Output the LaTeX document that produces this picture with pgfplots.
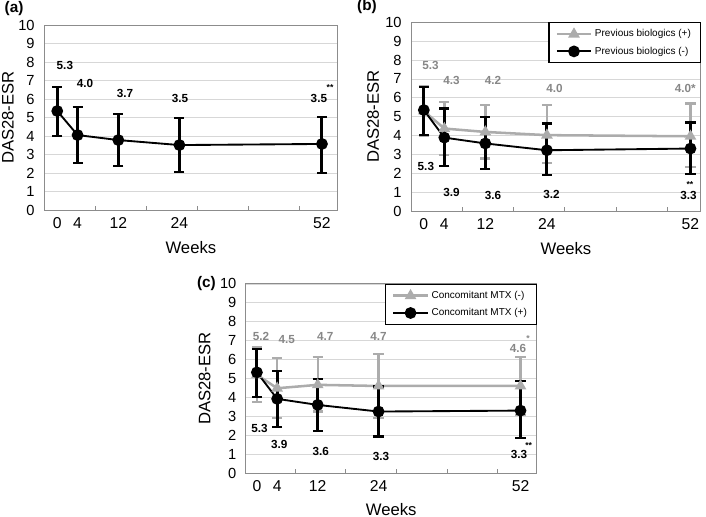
\documentclass[border=0pt]{standalone}
\usepackage{pgfplots}
\pgfplotsset{compat=1.18}
\usepackage{pgfplotstable}
\usepackage{fontspec}
\setmainfont{Liberation Sans}
\definecolor{lgray}{RGB}{172,172,172}
\definecolor{tgray}{RGB}{135,135,135}
\definecolor{gridc}{RGB}{215,215,215}
\definecolor{framec}{RGB}{140,140,140}

\pgfplotstableread{
x y ep em
0  5.35 1.28 1.33
4  4.05 1.54 1.49
12 3.78 1.41 1.40
24 3.51 1.48 1.46
52 3.57 1.48 1.55
}\dataA
\pgfplotstableread{
x y ep em
0  5.30 1.30 1.30
4  4.37 1.42 1.41
12 4.19 1.42 1.41
24 4.02 1.59 1.47
52 3.96 1.74 1.62
}\dataBgray
\pgfplotstableread{
x y ep em
0  5.35 1.20 1.33
4  3.89 1.54 1.50
12 3.58 1.38 1.37
24 3.22 1.42 1.33
52 3.31 1.38 1.36
}\dataBblack
\pgfplotstableread{
x y ep em
0  5.20 1.45 1.45
4  4.49 1.58 1.55
12 4.67 1.49 1.41
24 4.61 1.69 1.69
52 4.61 1.52 1.52
}\dataCgray
\pgfplotstableread{
x y ep em
0  5.33 1.24 1.28
4  3.93 1.49 1.50
12 3.61 1.35 1.37
24 3.26 1.32 1.32
52 3.31 1.55 1.46
}\dataCblack

\tikzset{
  lbl/.style={font=\fontsize{8.8}{10}\selectfont\bfseries, inner sep=0pt},
  glbl/.style={lbl, text=tgray},
  stars/.style={font=\fontsize{6.5}{7}\selectfont\bfseries, inner sep=0pt},
}
\pgfplotsset{
  panel/.style={
    scale only axis,
    anchor=south west,
    /pgf/number format/assume math mode=true,
    ymin=0, ymax=10,
    ytick={0,1,...,10},
    ymajorgrids,
    grid style={gridc, line width=0.6pt},
    ytick style={draw=none},
    axis line style={framec, line width=0.7pt},
    xtick={7.5,17.5,27.5,37.5,47.5},
    xticklabels={},
    tick align=inside,
    xtick pos=bottom,
    ytick pos=left,
    major tick length=3pt,
    xtick style={framec, line width=0.6pt},
    extra x ticks={0,4,12,24,52},
    extra x tick labels={0,4,12,24,52},
    extra x tick style={major tick length=0pt, grid=none, tick label style={font=\fontsize{11.8}{12}\selectfont, yshift=-2pt}},
    yticklabel style={font=\fontsize{11}{12}\selectfont, xshift=-3.5pt},
    xlabel={Weeks},
    ylabel={DAS28-ESR},
    label style={font=\fontsize{12.5}{13}\selectfont},
    xlabel style={at={(rel axis cs:0.5,0)}, anchor=center, yshift=-28.5pt},
    clip=false,
  },
  blk/.style={black, line width=1.4pt, mark=*, mark size=3.7pt, mark options={solid},
    error bars/.cd, y dir=both, y explicit,
    error bar style={line width=2.2pt, black},
    error mark options={rotate=90, mark size=3.8pt, line width=1.6pt, black}},
  gry/.style={lgray, line width=1.9pt, mark=triangle*, mark size=3.2pt, mark options={solid},
    error bars/.cd, y dir=both, y explicit,
    error bar style={line width=1.8pt, lgray},
    error mark options={rotate=90, mark size=3.8pt, line width=1.6pt, lgray}},
  legimg/.style={legend image code/.code={\draw[mark repeat=2,mark phase=2,##1] plot coordinates {(0cm,0cm) (0.45cm,0cm) (0.9cm,0cm)};}},
  legsty/.style={legend style={at={(1,1)}, anchor=north east, draw=black, line width=0.8pt,
    font=\fontsize{7.5}{9}\selectfont, row sep=2pt, inner xsep=5pt, inner ysep=3pt, legend cell align=left}},
}

\begin{document}
\begin{tikzpicture}
\path[use as bounding box] (0,0) rectangle (529.5pt,387.75pt);

% ---------- (a)
\begin{axis}[panel, at={(33pt,230.25pt)}, width=220.3pt, height=138.75pt,
  xmin=-2.6, xmax=55.1,
  ylabel style={at={(axis description cs:-0.1226,0.5)}, anchor=center}]
\addplot+[blk] table[x=x, y=y, y error plus=ep, y error minus=em] {\dataA};
\node[lbl] at (axis cs:1.5,7.8) {5.3};
\node[lbl] at (axis cs:5.45,6.85) {4.0};
\node[lbl] at (axis cs:13.3,6.3) {3.7};
\node[lbl] at (axis cs:24.1,6.05) {3.5};
\node[lbl] at (axis cs:51.4,6.05) {3.5};
\node[stars] at (axis cs:53.6,6.62) {**};
\node[font=\fontsize{11.5}{13}\selectfont\bfseries, anchor=center] at (rel axis cs:-0.102,1.087) {(a)};
\end{axis}

% ---------- (b)
\begin{axis}[panel, legsty, legimg, at={(308.25pt,229.5pt)}, width=217.3pt, height=141.5pt,
  xmin=-2.5, xmax=54.0,
  xlabel style={at={(rel axis cs:0.535,0)}},
  ylabel style={at={(axis description cs:-0.131,0.5)}, anchor=center}]
\addplot+[gry] table[x=x, y=y, y error plus=ep, y error minus=em] {\dataBgray};
\addlegendentry{Previous biologics (+)}
\addplot+[blk] table[x=x, y=y, y error plus=ep, y error minus=em] {\dataBblack};
\addlegendentry{Previous biologics (-)}
\node[glbl] at (axis cs:1.3,7.73) {5.3};
\node[glbl] at (axis cs:5.4,6.9) {4.3};
\node[glbl] at (axis cs:13.5,6.9) {4.2};
\node[glbl] at (axis cs:25.5,6.5) {4.0};
\node[glbl] at (axis cs:51.0,6.5) {4.0*};
\node[lbl] at (axis cs:0.4,2.34) {5.3};
\node[lbl] at (axis cs:5.4,0.96) {3.9};
\node[lbl] at (axis cs:13.5,0.83) {3.6};
\node[lbl] at (axis cs:24.9,0.87) {3.2};
\node[lbl] at (axis cs:51.6,0.83) {3.3};
\node[stars] at (axis cs:51.9,1.42) {**};
\node[font=\fontsize{11.5}{13}\selectfont\bfseries, anchor=center] at (rel axis cs:-0.152,1.085) {(b)};
\end{axis}

% ---------- (c)
\begin{axis}[panel, legsty, legimg, at={(184.3pt,32.8pt)}, width=218.25pt, height=142pt,
  xmin=-2.2, xmax=55.2,
  xlabel style={yshift=1.5pt},
  ylabel style={at={(axis description cs:-0.141,0.5)}, anchor=center}]
\addplot+[gry] table[x=x, y=y, y error plus=ep, y error minus=em] {\dataCgray};
\addlegendentry{Concomitant MTX (-)}
\addplot+[blk] table[x=x, y=y, y error plus=ep, y error minus=em] {\dataCblack};
\addlegendentry{Concomitant MTX (+)}
\node[glbl] at (axis cs:0.8,7.25) {5.2};
\node[glbl] at (axis cs:5.9,7.04) {4.5};
\node[glbl] at (axis cs:13.5,7.25) {4.7};
\node[glbl] at (axis cs:24,7.25) {4.7};
\node[glbl] at (axis cs:51.5,6.6) {4.6};
\node[stars, text=tgray] at (axis cs:53.5,7.1) {*};
\node[lbl] at (axis cs:0.5,2.34) {5.3};
\node[lbl] at (axis cs:4.4,1.5) {3.9};
\node[lbl] at (axis cs:12.6,1.14) {3.6};
\node[lbl] at (axis cs:24.5,0.88) {3.3};
\node[lbl] at (axis cs:51.7,0.97) {3.3};
\node[stars] at (axis cs:53.6,1.45) {**};
\node[font=\fontsize{11.5}{13}\selectfont\bfseries, anchor=center] at (rel axis cs:-0.135,1.0) {(c)};
\end{axis}
\end{tikzpicture}
\end{document}
